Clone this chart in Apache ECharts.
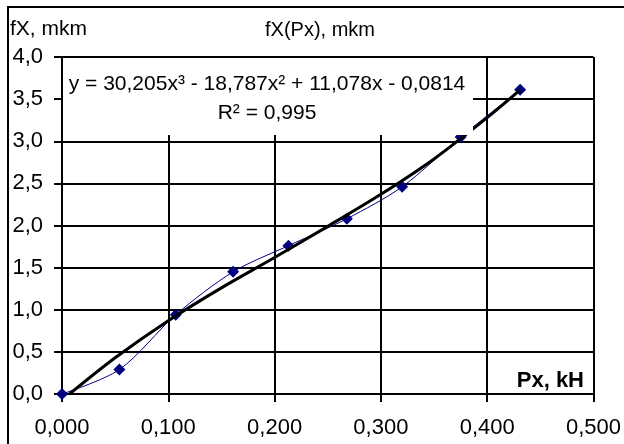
<!DOCTYPE html>
<html>
<head>
<meta charset="utf-8">
<script src="https://cdn.jsdelivr.net/npm/echarts@6/dist/echarts.min.js"></script>
<style>
  html, body { margin: 0; padding: 0; background: #fff; }
  #main { width: 624px; height: 444px; }
</style>
</head>
<body>
<div id="main"></div>
<script>
// measured points fX(Px)
var px = [0.000, 0.054, 0.107, 0.161, 0.213, 0.268, 0.320, 0.375, 0.431];
var fx = [0.00, 0.29, 0.94, 1.45, 1.76, 2.08, 2.46, 3.05, 3.61];

// polynomial trend line
var trendX = [0.007, 0.05, 0.10, 0.15, 0.20, 0.25, 0.30, 0.35, 0.40, 0.431];
var trendY = [0.00, 0.43, 0.87, 1.26, 1.62, 1.99, 2.37, 2.79, 3.28, 3.61];

var xTicks = { min: 0, max: 0.5, step: 0.1 };
var yTicks = { min: 0, max: 4, step: 0.5 };

var titleText = 'fX(Px), mkm';
var yName = 'fX, mkm';
var xName = 'Px, kH';
var eqText = 'y = 30,205x³ - 18,787x² + 11,078x - 0,0814';
var r2Text = 'R² = 0,995';

function pairs(xs, ys) {
  var out = [];
  for (var i = 0; i < xs.length; i++) out.push([xs[i], ys[i]]);
  return out;
}

var chart = echarts.init(document.getElementById('main'), null, { renderer: 'canvas' });

var font = 'Liberation Sans, Arial, sans-serif';

var option = {
  backgroundColor: '#fff',
  animation: false,
  textStyle: { fontFamily: font, color: '#000' },
  grid: { left: 62, top: 57, width: 535, height: 337 },
  xAxis: {
    type: 'value',
    min: xTicks.min,
    max: xTicks.max,
    interval: xTicks.step,
    axisLine: { show: true, onZero: false, lineStyle: { color: '#000', width: 2 } },
    axisTick: { show: true, length: 8, lineStyle: { color: '#000', width: 2 } },
    axisLabel: {
      margin: 23, fontSize: 22, color: '#000', fontFamily: font,
      formatter: function (v) { return v.toFixed(3).replace('.', ','); }
    },
    splitLine: { show: true, lineStyle: { color: '#000', width: 2 } }
  },
  yAxis: {
    type: 'value',
    min: yTicks.min,
    max: yTicks.max,
    interval: yTicks.step,
    axisLine: { show: true, onZero: false, lineStyle: { color: '#000', width: 2 } },
    axisTick: { show: true, length: 8, lineStyle: { color: '#000', width: 2 } },
    axisLabel: {
      margin: 19, fontSize: 22, color: '#000', fontFamily: font,
      formatter: function (v) { return v.toFixed(1).replace('.', ','); }
    },
    splitLine: { show: true, lineStyle: { color: '#000', width: 2 } }
  },
  series: [
    {
      name: 'fX',
      type: 'line',
      data: pairs(px, fx),
      smooth: 0.3,
      symbol: 'diamond',
      symbolSize: 12,
      itemStyle: { color: '#000080' },
      lineStyle: { color: '#000080', width: 1 },
      z: 3
    },
    {
      name: 'trend',
      type: 'line',
      data: pairs(trendX, trendY),
      smooth: 0.3,
      showSymbol: false,
      lineStyle: { color: '#000', width: 3 },
      z: 4
    }
  ],
  graphic: [
    {
      type: 'rect', z: 200, silent: true,
      shape: { x: 8, y: 7, width: 700, height: 500 },
      style: { fill: 'none', stroke: '#000', lineWidth: 2 }
    },
    {
      type: 'text', z: 200, left: 10, top: 19,
      style: { text: yName, font: '21px ' + font, fill: '#000' }
    },
    {
      type: 'text', z: 200, x: 320, y: 30,
      style: { text: titleText, font: '20px ' + font, fill: '#000', align: 'center', verticalAlign: 'middle' }
    },
    {
      type: 'rect', z: 150, silent: true,
      shape: { x: 63, y: 58, width: 410, height: 77 },
      style: { fill: '#fff' }
    },
    {
      type: 'text', z: 200, x: 267, y: 84,
      style: { text: eqText, font: '21px ' + font, fill: '#000', align: 'center', verticalAlign: 'middle' }
    },
    {
      type: 'text', z: 200, x: 267, y: 113,
      style: { text: r2Text, font: '21px ' + font, fill: '#000', align: 'center', verticalAlign: 'middle' }
    },
    {
      type: 'text', z: 200, x: 584, y: 381,
      style: { text: xName, font: 'bold 22px ' + font, fill: '#000', align: 'right', verticalAlign: 'middle' }
    }
  ]
};

chart.setOption(option);
</script>
</body>
</html>
